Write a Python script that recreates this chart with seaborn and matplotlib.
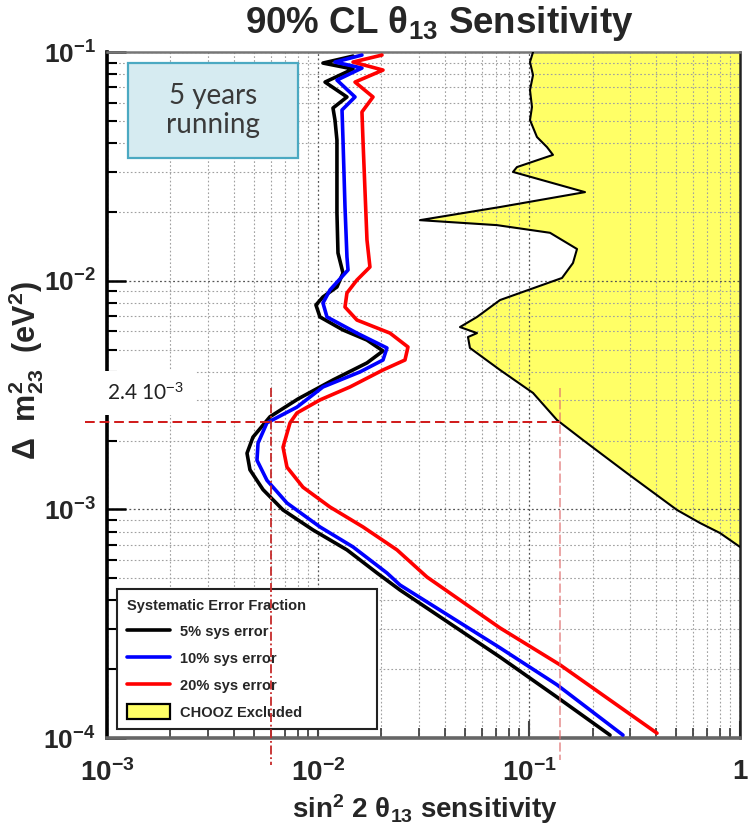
import numpy as np
import pandas as pd
import matplotlib
matplotlib.use("Agg")
import matplotlib.pyplot as plt
import seaborn as sns
from matplotlib.lines import Line2D
from matplotlib.patches import Patch, Rectangle
from matplotlib.ticker import FixedLocator, LogLocator, NullFormatter

# ---------------- data ----------------
sys5_x = [0.01466, 0.01056, 0.01466, 0.01080, 0.01372, 0.01178, 0.01204, 0.01230, 0.01230, 0.01230,
          0.01244, 0.01314, 0.01230, 0.01056, 0.00978, 0.01022, 0.01314, 0.01707, 0.02033, 0.01707,
          0.01178, 0.00804, 0.00592, 0.00492, 0.00461, 0.00476, 0.00549, 0.00683, 0.00947, 0.01372,
          0.01905, 0.02447, 0.0729, 0.1357, 0.2421]
sys5_y = [0.0960, 0.0895, 0.0843, 0.0739, 0.0636, 0.0569, 0.0504, 0.0412, 0.0296, 0.0198,
          0.01322, 0.01080, 0.00939, 0.00849, 0.00783, 0.00694, 0.00609, 0.00550, 0.00493, 0.00437,
          0.00368, 0.00304, 0.00254, 0.00207, 0.00176, 0.00149, 0.00122, 0.000994, 0.000813, 0.000665,
          0.000527, 0.000444, 0.000226, 0.000151, 0.000103]

sys10_x = [0.01616, 0.01204, 0.01616, 0.01230, 0.01498, 0.01300, 0.01314, 0.01343, 0.01372, 0.01388,
           0.01140, 0.01056, 0.01103, 0.01530, 0.02123, 0.02033, 0.01581, 0.01056, 0.00795, 0.00573,
           0.00520, 0.00514, 0.00573, 0.00713, 0.01022, 0.01466, 0.02123, 0.02447, 0.0729, 0.1357, 0.2789]
sys10_y = [0.0970, 0.0904, 0.0851, 0.0754, 0.0636, 0.0558, 0.0412, 0.0210, 0.01270, 0.01114,
           0.00911, 0.00799, 0.00694, 0.00590, 0.00508, 0.00450, 0.00399, 0.00343, 0.00280, 0.00239,
           0.00195, 0.00164, 0.00134, 0.001066, 0.000838, 0.000685, 0.000527, 0.000467, 0.000248,
           0.000171, 0.000103]

sys20_x = [0.02011, 0.01466, 0.02033, 0.01498, 0.01823, 0.01616, 0.01634, 0.01670, 0.01707, 0.01763,
           0.01530, 0.01372, 0.01343, 0.01530, 0.02194, 0.02670, 0.02584, 0.02033, 0.01418, 0.01022,
           0.00795, 0.00737, 0.00683, 0.00713, 0.00849, 0.01140, 0.01634, 0.02368, 0.03285, 0.0729,
           0.1403, 0.4043]
sys20_y = [0.0970, 0.0904, 0.0834, 0.0739, 0.0636, 0.0547, 0.0412, 0.0249, 0.01507, 0.01148,
           0.01007, 0.00884, 0.00767, 0.00673, 0.00590, 0.00513, 0.00450, 0.00407, 0.00343, 0.00301,
           0.00264, 0.00239, 0.00187, 0.00153, 0.00125, 0.001024, 0.000838, 0.000665, 0.000506,
           0.000303, 0.000209, 0.000105]

chooz_x = [0.1045, 0.1011, 0.1045, 0.1011, 0.1033, 0.1011, 0.1091, 0.1217, 0.1299, 0.0877,
           0.0840, 0.1843, 0.0729, 0.03043, 0.0705, 0.1258, 0.1689, 0.1616, 0.1434, 0.0729,
           0.0567, 0.0471, 0.0567, 0.0514, 0.0525, 0.0729, 0.1045, 0.1357, 0.1803, 0.2914,
           0.5028, 0.6463, 0.8038, 1.0]
chooz_y = [0.1, 0.0904, 0.0793, 0.0682, 0.0575, 0.0504, 0.0425, 0.0384, 0.0355, 0.0314,
           0.0299, 0.0244, 0.0210, 0.0184, 0.0175, 0.0162, 0.01376, 0.01195, 0.01028, 0.00823,
           0.00694, 0.00627, 0.00590, 0.00567, 0.00508, 0.00407, 0.00323, 0.00246, 0.00201, 0.00144,
           0.000994, 0.000872, 0.000788, 0.000685]

series_labels = ["5% sys error", "10% sys error", "20% sys error"]
chooz_label = "CHOOZ Excluded"
ref_dm2 = 2.4e-3
ref_x_left = 0.006
ref_x_right = 0.14
x_ticks = [1e-3, 1e-2, 1e-1, 1]
x_tick_labels = [r"$\mathbf{10^{-3}}$", r"$\mathbf{10^{-2}}$", r"$\mathbf{10^{-1}}$", r"$\mathbf{1}$"]
y_ticks = [1e-4, 1e-3, 1e-2, 1e-1]
y_tick_labels = [r"$\mathbf{10^{-4}}$", r"$\mathbf{10^{-3}}$", r"$\mathbf{10^{-2}}$", r"$\mathbf{10^{-1}}$"]

# ---------------- style ----------------
sns.set_style("white")
plt.rcParams["font.family"] = ["Liberation Sans", "DejaVu Sans"]
plt.rcParams["mathtext.fontset"] = "custom"
plt.rcParams["mathtext.rm"] = "Liberation Sans"
plt.rcParams["mathtext.bf"] = "Liberation Sans:bold"
plt.rcParams["mathtext.it"] = "Liberation Sans:italic"

colors = {"5% sys error": "black", "10% sys error": "#0000ff", "20% sys error": "#ff0000"}
yellow = "#ffff66"

fig = plt.figure(figsize=(7.48, 8.30), dpi=100)
ax = fig.add_axes([0.1430, 0.1108, 0.8463, 0.8265])
ax.set_xscale("log")
ax.set_yscale("log")

# CHOOZ excluded region
ax.fill_betweenx(chooz_y, chooz_x, 1.0, color=yellow, lw=0, zorder=1)
sns.lineplot(x=chooz_x, y=chooz_y, sort=False, estimator=None, color="black", lw=1.5, ax=ax, zorder=3)

# sensitivity curves
df = pd.DataFrame({
    "x": sys5_x + sys10_x + sys20_x,
    "y": sys5_y + sys10_y + sys20_y,
    "series": [series_labels[0]] * len(sys5_x) + [series_labels[1]] * len(sys10_x)
              + [series_labels[2]] * len(sys20_x),
})
sns.lineplot(data=df, x="x", y="y", hue="series", palette=colors, sort=False,
             estimator=None, lw=2.6, ax=ax, legend=False, zorder=4)

ax.set_xlim(1e-3, 1)
ax.set_ylim(1e-4, 1e-1)

# reference dashed lines
x_left_edge = 10 ** (-3 - 22 / 211)
ax.plot([x_left_edge, ref_x_right], [ref_dm2, ref_dm2], color="#d01818", ls=(0, (5, 2.5)),
        lw=1.4, clip_on=False, zorder=6)
ax.plot([ref_x_left, ref_x_left], [3.4e-3, 7.6e-5], color="#c62a2a", ls=(0, (5, 1.5, 1, 1.5)),
        lw=1.3, clip_on=False, zorder=6)
ax.plot([ref_x_right, ref_x_right], [3.4e-3, 8.0e-5], color="#e07070", ls=(0, (6, 2)),
        lw=1.1, alpha=0.8, clip_on=False, zorder=6)

# ticks
ax.xaxis.set_major_locator(FixedLocator(x_ticks))
ax.set_xticklabels(x_tick_labels)
ax.yaxis.set_major_locator(FixedLocator(y_ticks))
ax.set_yticklabels(y_tick_labels)
ax.xaxis.set_minor_locator(LogLocator(base=10, subs=np.arange(2, 10)))
ax.yaxis.set_minor_locator(LogLocator(base=10, subs=np.arange(2, 10)))
ax.xaxis.set_minor_formatter(NullFormatter())
ax.yaxis.set_minor_formatter(NullFormatter())
ax.tick_params(axis="y", which="major", direction="in", length=14, width=1.8, color="black",
               labelsize=19, pad=8, left=True)
ax.tick_params(axis="y", which="minor", direction="in", length=7, width=1.5, color="black", left=True)
ax.tick_params(axis="x", which="major", direction="in", length=12, width=1.5, color="#444444",
               labelsize=20, pad=15, bottom=True)
ax.tick_params(axis="x", which="minor", direction="in", length=7, width=1.3, color="#444444", bottom=True)

# grid
ax.set_axisbelow("line")
ax.grid(which="major", ls=(0, (1.5, 2)), color="#555555", lw=0.9)
ax.grid(which="minor", ls=(0, (1.5, 2)), color="#a0a0a0", lw=0.8)

# spines
ax.spines["left"].set_linewidth(2.6)
ax.spines["left"].set_color("black")
ax.spines["bottom"].set_linewidth(2.6)
ax.spines["bottom"].set_color("#666666")
ax.spines["top"].set_linewidth(1.8)
ax.spines["top"].set_color("#777777")
ax.spines["right"].set_linewidth(1.8)
ax.spines["right"].set_color("#222222")

# labels
ax.set_xlabel(r"sin$^{\mathbf{2}}$ 2 θ$_{\mathbf{13}}$ sensitivity", fontsize=20, weight="bold")
ax.xaxis.set_label_coords(0.502, -0.1166)
ax.xaxis.label.set_va("baseline")
ax.set_ylabel(r"Δ  $\mathbf{m^{2}_{23}}$  (eV$^{\mathbf{2}}$)", fontsize=22, weight="bold")
ax.yaxis.set_label_coords(-0.128, 0.535)
ax.yaxis.label.set_va("center")

fig.text(0.587, 0.960, r"90% CL θ$_{\mathbf{13}}$ Sensitivity", ha="center", va="baseline",
         fontsize=26.5, weight="bold")

# "2.4 10^-3" annotation
ax.text(0.0, 0.503, r"2.4 10$^{-3}$", transform=ax.transAxes, family=["Lato", "DejaVu Sans"],
        fontsize=15, color="#222222", ha="left", va="center", zorder=7, clip_on=False,
        bbox=dict(boxstyle="square,pad=0.55", fc="white", ec="none"))

# "5 years running" box
ax.add_patch(Rectangle((0.033, 0.8455), 0.2686, 0.1385, transform=ax.transAxes,
                       fc="#d6ebf1", ec="#4ba9c2", lw=1.6, zorder=5))
ax.text(0.1673, 0.9148, "5 years\nrunning", transform=ax.transAxes, ha="center", va="center",
        family=["Lato", "DejaVu Sans"], fontsize=20, color="#3a3a3a", linespacing=1.15, zorder=6)

# legend
handles = [Line2D([], [], color=colors[s], lw=2.6) for s in series_labels]
handles.append(Patch(facecolor=yellow, edgecolor="black", lw=1.6))
leg = ax.legend(handles, series_labels + [chooz_label], title="Systematic Error Fraction",
                loc="lower left", bbox_to_anchor=(0.016, 0.013, 0.41, 0.195), mode="expand",
                prop={"weight": "bold", "size": 10.5},
                title_fontproperties={"weight": "bold", "size": 10.5}, alignment="left",
                frameon=True, fancybox=False, edgecolor="#222222", framealpha=1,
                handlelength=3.0, handleheight=1.2, labelspacing=0.78, handletextpad=0.65,
                borderpad=0.65, borderaxespad=0)
leg.get_frame().set_linewidth(1.5)
leg.set_zorder(5)

fig.savefig("out.png", dpi=100)
